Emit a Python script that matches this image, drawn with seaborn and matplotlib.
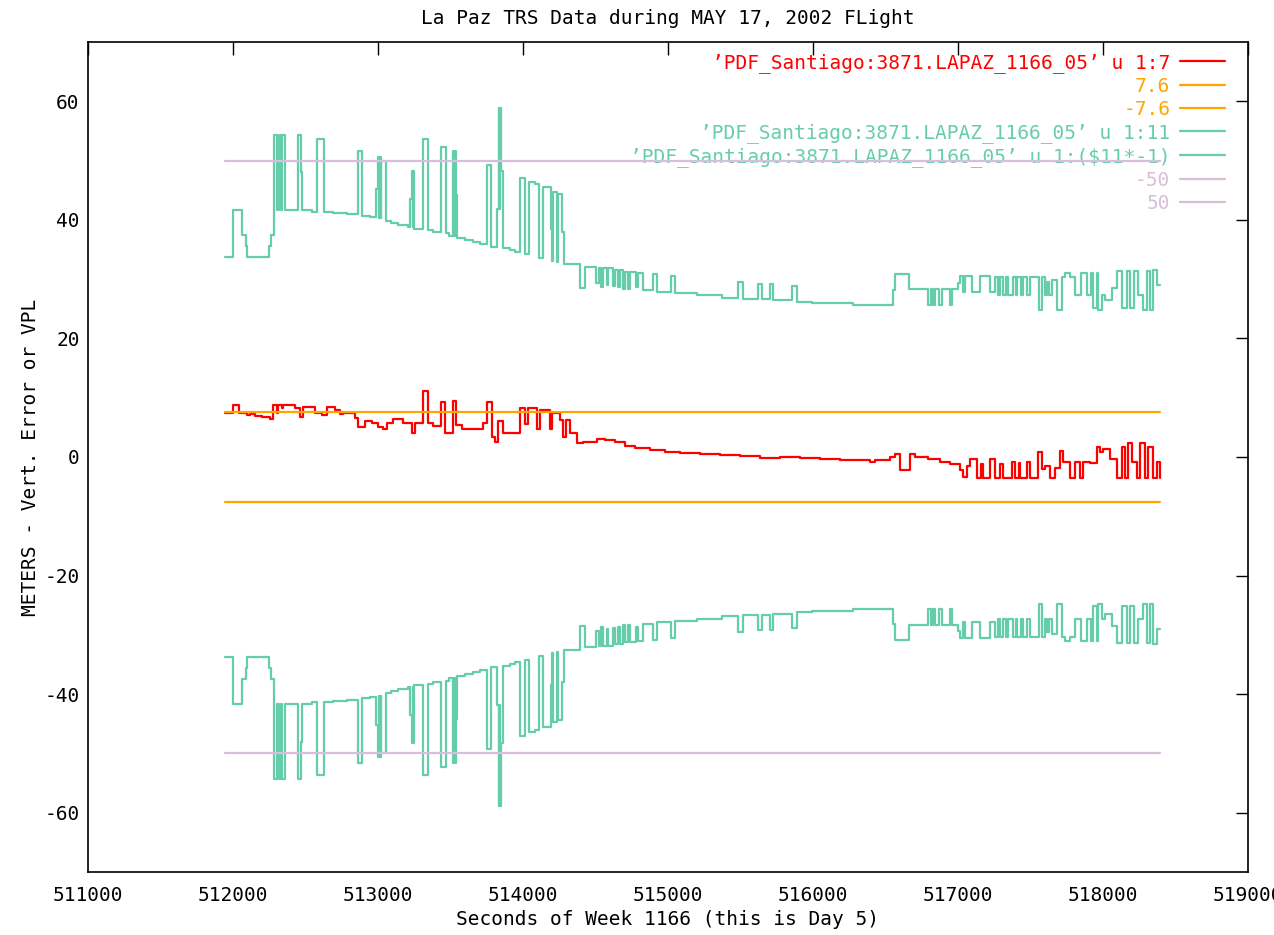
import matplotlib
matplotlib.use("Agg")
import matplotlib.pyplot as plt
import seaborn as sns
import pandas as pd

# VPL (column 11) as step breakpoints: seconds of week, metres
vpl_seconds = [
    511945, 512002, 512060, 512088, 512099, 512248, 512262, 512283, 512303, 512317,
    512334, 512341, 512359, 512450, 512469, 512478, 512547, 512577, 512628, 512690,
    512784, 512864, 512892, 512945, 512986, 512998, 513006, 513011, 513018, 513022,
    513055, 513088, 513136, 513209, 513221, 513232, 513239, 513243, 513248, 513313,
    513347, 513381, 513432, 513466, 513491, 513519, 513525, 513529, 513536, 513547,
    513600, 513653, 513703, 513750, 513777, 513781, 513818, 513832, 513837, 513841,
    513850, 513860, 513910, 513945, 513979, 514014, 514041, 514083, 514110, 514138,
    514191, 514200, 514205, 514236, 514242, 514268, 514283, 514393, 514428, 514503,
    514521, 514538, 514554, 514577, 514588, 514620, 514634, 514657, 514669, 514692,
    514703, 514724, 514738, 514779, 514790, 514825, 514898, 514926, 515021, 515048,
    515198, 515370, 515485, 515519, 515623, 515646, 515703, 515726, 515857, 515887,
    515990, 516277, 516553, 516565, 516664, 516795, 516812, 516826, 516841, 516871,
    516887, 516945, 516956, 517002, 517014, 517037, 517048, 517094, 517152, 517221,
    517255, 517278, 517290, 517313, 517329, 517347, 517377, 517398, 517408, 517436,
    517446, 517474, 517497, 517561, 517577, 517600, 517616, 517630, 517646, 517681,
    517715, 517738, 517772, 517807, 517846, 517887, 517920, 517930, 517956, 517968,
    517991, 518014, 518060, 518095, 518129, 518163, 518186, 518214, 518243, 518278,
    518301, 518324, 518347, 518370, 518393,
]
vpl_meters = [
    33.8, 41.6, 37.5, 35.6, 33.8, 35.6, 37.5, 54.3, 41.6, 54.3,
    41.6, 54.3, 41.6, 54.3, 48.0, 41.6, 41.3, 53.7, 41.4, 41.2,
    41.0, 51.6, 40.7, 40.4, 45.2, 50.6, 40.3, 50.6, 40.3, 49.9,
    39.8, 39.5, 39.2, 38.8, 43.6, 48.2, 38.8, 48.2, 38.5, 53.7,
    38.3, 38.0, 52.3, 37.7, 37.3, 51.6, 37.3, 51.6, 44.2, 36.9,
    36.6, 36.3, 35.9, 49.2, 48.9, 35.4, 41.9, 58.9, 41.9, 58.9,
    48.2, 35.2, 34.9, 34.6, 47.0, 34.2, 46.4, 46.1, 33.5, 45.6,
    38.5, 33.0, 44.7, 32.9, 44.3, 38.0, 32.5, 28.5, 32.1, 29.3,
    31.8, 28.6, 31.8, 29.0, 31.8, 28.8, 31.5, 28.6, 31.5, 28.4,
    31.2, 28.3, 31.2, 28.6, 31.0, 28.1, 30.8, 27.9, 30.5, 27.6,
    27.3, 26.9, 29.5, 26.6, 29.2, 26.6, 29.2, 26.5, 28.8, 26.2,
    26.0, 25.6, 28.1, 30.8, 28.3, 25.6, 28.3, 25.6, 28.3, 25.6,
    28.3, 25.6, 28.3, 29.3, 30.5, 27.9, 30.5, 27.9, 30.5, 27.9,
    30.4, 27.3, 30.4, 27.3, 30.4, 27.3, 30.4, 27.3, 30.4, 27.3,
    30.4, 27.3, 30.4, 24.8, 30.4, 27.3, 29.5, 27.3, 29.8, 24.8,
    30.4, 31.0, 30.4, 27.3, 31.0, 27.3, 31.0, 25.2, 31.0, 24.8,
    27.3, 26.5, 28.5, 31.3, 25.2, 31.3, 25.2, 31.3, 27.3, 24.8,
    31.3, 24.8, 31.5, 29.0, 29.0,
]

# Vertical position error (column 7) as step breakpoints
err_seconds = [
    511945, 512002, 512041, 512069, 512094, 512117, 512152, 512198, 512255, 512278,
    512301, 512312, 512336, 512347, 512428, 512462, 512485, 512566, 512612, 512646,
    512703, 512738, 512761, 512841, 512864, 512910, 512959, 513000, 513034, 513062,
    513106, 513172, 513234, 513255, 513313, 513347, 513381, 513432, 513462, 513519,
    513538, 513577, 513726, 513750, 513784, 513807, 513828, 513860, 513979, 514014,
    514034, 514094, 514117, 514186, 514198, 514255, 514278, 514297, 514324, 514370,
    514416, 514508, 514566, 514634, 514703, 514772, 514876, 514979, 515083, 515221,
    515359, 515497, 515634, 515772, 515910, 516048, 516186, 516393, 516428, 516531,
    516566, 516600, 516669, 516703, 516793, 516876, 516945, 517014, 517034, 517062,
    517083, 517129, 517160, 517170, 517221, 517255, 517290, 517313, 517370, 517393,
    517420, 517430, 517474, 517497, 517554, 517577, 517600, 517634, 517669, 517703,
    517726, 517772, 517807, 517841, 517864, 517910, 517956, 517979, 518002, 518048,
    518094, 518129, 518152, 518175, 518198, 518232, 518255, 518290, 518313, 518347,
    518370, 518393,
]
err_meters = [
    7.5, 8.8, 7.5, 7.4, 7.1, 7.3, 6.9, 6.7, 6.4, 8.8,
    7.5, 8.8, 8.2, 8.8, 8.2, 6.8, 8.5, 7.5, 7.1, 8.5,
    7.9, 7.3, 7.4, 6.5, 5.1, 6.0, 5.7, 5.1, 4.7, 5.8,
    6.4, 5.7, 4.0, 5.7, 11.2, 5.7, 5.2, 9.2, 4.1, 9.5,
    5.4, 4.8, 5.7, 9.2, 3.4, 2.6, 6.0, 4.0, 8.2, 5.5,
    8.2, 4.8, 7.9, 4.8, 7.4, 6.2, 3.4, 6.2, 4.1, 2.3,
    2.6, 3.1, 2.9, 2.5, 1.9, 1.6, 1.2, 0.9, 0.7, 0.5,
    0.3, 0.1, -0.1, 0.0, -0.2, -0.3, -0.5, -0.8, -0.5, 0.05,
    0.5, -2.2, 0.5, 0.0, -0.4, -0.8, -1.1, -2.2, -3.4, -1.5,
    -0.4, -3.6, -1.2, -3.6, -0.3, -3.6, -1.1, -3.6, -0.8, -3.6,
    -1.0, -3.6, -0.8, -3.6, 0.8, -2.0, -1.5, -3.6, -1.8, 1.0,
    -0.8, -3.6, -0.8, -3.6, -0.8, -1.0, 1.7, 0.8, 1.4, -0.3,
    -3.6, 1.7, -3.6, 2.3, -0.8, -3.6, 2.3, -3.6, 1.7, -3.6,
    -0.8, -3.6,
]

# Constant limit lines share the time span of the data file
span_seconds = [511945, 518393]
err_limits = [7.6, -7.6]
vpl_limits = [-50, 50]

x_ticks = list(range(511000, 519001, 1000))
y_ticks = list(range(-60, 61, 20))

src = "\u2019PDF_Santiago:3871.LAPAZ_1166_05\u2019"
legend_labels = [
    f"{src} u 1:7",
    "7.6",
    "-7.6",
    f"{src} u 1:11",
    f"{src} u 1:($11*-1)",
    "-50",
    "50",
]

RED = "#ff0000"
ORANGE = "#ffa500"
GREEN = "#66cdaa"
PLUM = "#d8bfd8"

sns.set_theme(style="white")
plt.rcParams["font.family"] = ["DejaVu Sans Mono"]
plt.rcParams["axes.unicode_minus"] = False
plt.rcParams["text.color"] = "black"
plt.rcParams["axes.labelcolor"] = "black"

fig = plt.figure(figsize=(12.74, 9.35), dpi=100)
ax = fig.add_axes([88 / 1274, 1 - 872 / 935, 1160 / 1274, 830 / 935])

vpl = pd.DataFrame({"sec": vpl_seconds, "m": vpl_meters})
vpl_neg = vpl.assign(m=vpl["m"] * -1)
err = pd.DataFrame({"sec": err_seconds, "m": err_meters})

step_kw = dict(ax=ax, x="sec", y="m", drawstyle="steps-post", linewidth=1.6,
               estimator=None, sort=False, legend=False)
flat_kw = dict(ax=ax, linewidth=1.6, estimator=None, sort=False, legend=False)

sns.lineplot(data=err, color=RED, **step_kw)
for lvl in err_limits:
    sns.lineplot(x=span_seconds, y=[lvl, lvl], color=ORANGE, **flat_kw)
sns.lineplot(data=vpl, color=GREEN, **step_kw)
sns.lineplot(data=vpl_neg, color=GREEN, **step_kw)
for lvl in vpl_limits:
    sns.lineplot(x=span_seconds, y=[lvl, lvl], color=PLUM, **flat_kw)

ax.set_xlim(511000, 519000)
ax.set_ylim(-70, 70)
ax.set_xticks(x_ticks)
ax.set_yticks(y_ticks)
ax.set_xticklabels([str(t) for t in x_ticks])
ax.set_yticklabels([str(t) for t in y_ticks])
ax.tick_params(direction="in", length=9, width=1, top=True, right=True,
               labelsize=14, colors="black")
ax.tick_params(axis="x", pad=10)
ax.tick_params(axis="y", pad=6)

for sp in ax.spines.values():
    sp.set_color("black")
    sp.set_linewidth(1.2)
    sp.set_visible(True)

ax.set_title("La Paz TRS Data during MAY 17, 2002 FLight", fontsize=14, pad=13,
             color="black")
ax.set_xlabel("Seconds of Week 1166 (this is Day 5)", fontsize=14, labelpad=4)
ax.set_ylabel("METERS - Vert. Error or VPL", fontsize=14, labelpad=3)

leg = ax.legend(ax.get_lines(), legend_labels, loc="upper right",
                bbox_to_anchor=(0.98, 0.987), frameon=False, markerfirst=False,
                labelcolor="linecolor", fontsize=14, handlelength=2.3,
                handletextpad=0.5, labelspacing=0.21, borderpad=0,
                borderaxespad=0)
leg.set_zorder(1)

fig.savefig("out.png", dpi=100)
